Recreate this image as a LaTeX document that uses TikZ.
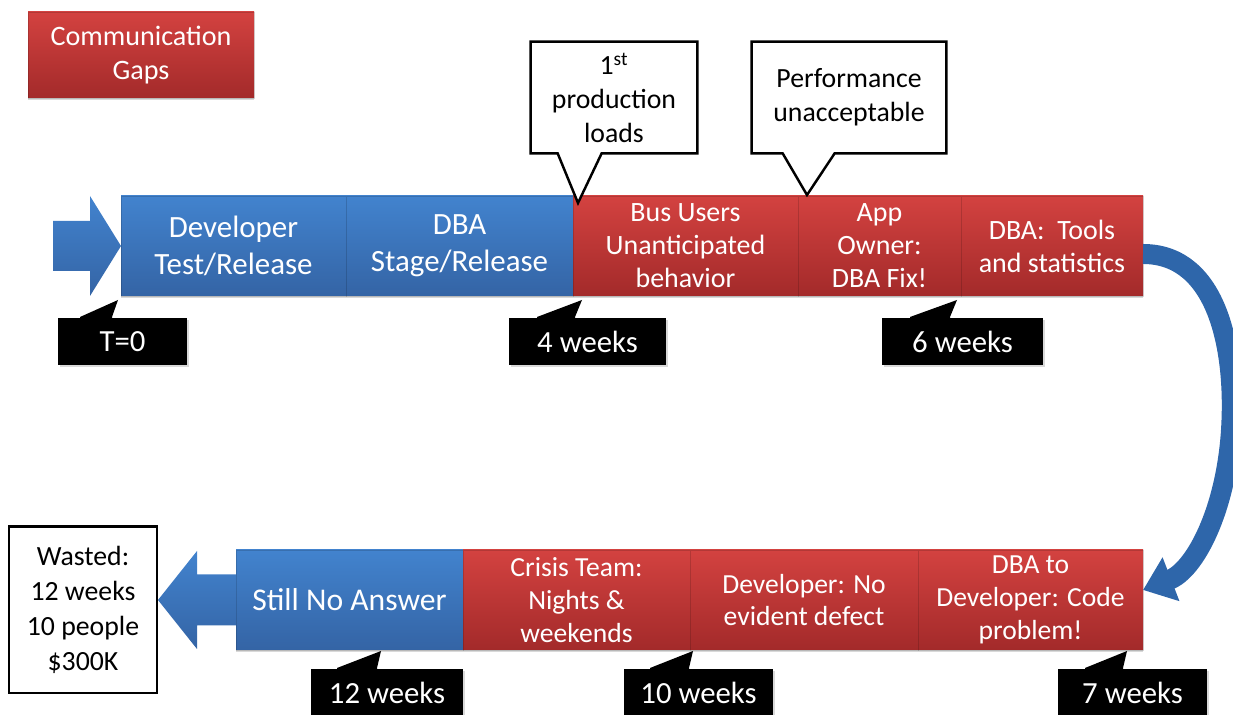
\documentclass[tikz,border=0pt]{standalone}
\usepackage{fontspec}
\setmainfont{Carlito}
\usetikzlibrary{positioning,calc,shadows,arrows.meta}
\definecolor{bluetop}{RGB}{66,131,206}
\definecolor{bluebot}{RGB}{52,100,165}
\definecolor{redtop}{RGB}{211,66,64}
\definecolor{redbot}{RGB}{163,42,42}
\definecolor{arrowblue}{RGB}{46,102,170}

\begin{document}
\begin{tikzpicture}[node distance=0cm,
    seg/.style={minimum height=2cm,inner sep=2pt,outer sep=0pt,text=white,align=center,
      draw=black,draw opacity=0.15,line width=0.4pt,
      drop shadow={shadow xshift=0pt,shadow yshift=-1.2pt,opacity=0.3}},
    blue seg/.style={seg,top color=bluetop,bottom color=bluebot,font=\fontsize{17.6}{21}\selectfont},
    red seg/.style={seg,top color=redtop,bottom color=redbot,font=\fontsize{15.9}{18.7}\selectfont},
    tag node/.style={fill=black,text=white,minimum height=0.94cm,inner sep=0pt,outer sep=0pt,
      font=\fontsize{17.5}{20}\selectfont,
      drop shadow={shadow xshift=1pt,shadow yshift=-1pt,opacity=0.3}},
    say node/.style={minimum height=2.22cm,inner sep=2pt,align=center,fill=white,
      font=\fontsize{15.8}{19.3}\selectfont},
    say line/.style={draw=black,line width=1.4pt,line join=miter},
    big arrow/.style={top color=bluetop,bottom color=bluebot}
  ]
  \useasboundingbox (0,0) rectangle (24.66,14.30);

  % title
  \node[red seg,minimum width=4.52cm,minimum height=1.72cm,font=\fontsize{16}{19.3}\selectfont] (gaps) at (2.82,13.20) {Communication\\Gaps};

  % first row
  \node[blue seg,minimum width=4.50cm,anchor=west] (dev) at (2.42,9.38) {Developer\\Test/Release};
  \node[blue seg,minimum width=4.54cm,right=of dev] (dba) {DBA\\Stage/Release};
  \node[red seg,minimum width=4.50cm,right=of dba] (bus) {Bus Users\\Unanticipated\\behavior};
  \node[red seg,minimum width=3.26cm,right=of bus] (app) {App\\Owner:\\DBA Fix!};
  \node[red seg,minimum width=3.64cm,right=of app] (tools) {DBA:~ Tools\\and statistics};

  % second row
  \node[blue seg,minimum width=4.54cm,anchor=west,font=\fontsize{18}{21}\selectfont] (still) at (4.72,2.30) {Still No Answer};
  \node[red seg,minimum width=4.54cm,right=of still,font=\fontsize{15.7}{18.7}\selectfont] (crisis) {Crisis Team:\\Nights \&\\weekends};
  \node[red seg,minimum width=4.56cm,right=of crisis,font=\fontsize{15.7}{18.7}\selectfont] (nodef) {Developer: No\\evident defect};
  \node[red seg,minimum width=4.50cm,right=of nodef,font=\fontsize{15.7}{18.7}\selectfont] (code) {DBA to\\Developer: Code\\problem!};

  % arrows in and out
  \path[big arrow] (dev.west) -- ++(-0.62,1) -- ++(0,-0.5) -- ++(-0.74,0) -- ++(0,-1) -- ++(0.74,0) -- ++(0,-0.5) -- cycle;
  \path[big arrow] ($(still.west)+(0,0.51)$) -- ++(-0.78,0) -- ++(0,0.47) -- ++(-0.78,-0.98) -- ++(0.78,-0.98) -- ++(0,0.47) -- ++(0.78,0) -- cycle;
  \draw[line width=0.4cm,arrowblue,-{Triangle[width=0.9cm,length=0.6cm]}]
    ($(tools.east)+(0,-0.16)$) .. controls (24.36,9.22) and (24.72,7.30) .. (24.62,5.70)
    .. controls (24.52,4.10) and (23.90,2.90) .. ($(code.east)+(0,0.20)$);

  % callouts
  \node[say node,minimum width=3.32cm] (load) at (12.28,12.35) {1\textsuperscript{st}\\production\\loads};
  \coordinate (loadtip) at (11.56,10.24);
  \fill[white] ($(load.south west)+(0.54,0)$) -- (loadtip) -- ($(load.south west)+(1.42,0)$) -- cycle;
  \draw[say line] ($(load.south west)+(0.54,0)$) -- (load.south west) -- (load.north west) -- (load.north east)
    -- (load.south east) -- ($(load.south west)+(1.42,0)$) -- (loadtip) -- cycle;

  \node[say node,minimum width=3.88cm] (perf) at (16.98,12.35) {Performance\\unacceptable};
  \coordinate (perftip) at (16.14,10.40);
  \fill[white] ($(perf.south west)+(0.62,0)$) -- (perftip) -- ($(perf.south west)+(1.66,0)$) -- cycle;
  \draw[say line] ($(perf.south west)+(0.62,0)$) -- (perf.south west) -- (perf.north west) -- (perf.north east)
    -- (perf.south east) -- ($(perf.south west)+(1.66,0)$) -- (perftip) -- cycle;

  % time tags
  \node[tag node,minimum width=2.58cm] (t0) at (2.45,7.47) {T=0};
  \node[tag node,minimum width=3.14cm] (w4) at (11.75,7.47) {4 weeks};
  \node[tag node,minimum width=3.22cm] (w6) at (19.25,7.47) {6 weeks};
  \node[tag node,minimum width=3.04cm] (w12) at (7.74,0.45) {12 weeks};
  \node[tag node,minimum width=2.98cm] (w10) at (13.97,0.45) {10 weeks};
  \node[tag node,minimum width=2.98cm] (w7) at (22.65,0.45) {7 weeks};
  \foreach \t/\a/\b/\c in {t0/0.44/1.08/1.20, w4/0.56/1.32/1.46, w6/0.56/1.36/1.50,
                           w12/0.52/1.32/1.40, w10/0.52/1.30/1.38, w7/0.54/1.30/1.38}
    \fill ($(\t.north west)+(\a,0.02)$) -- ($(\t.north west)+(\c,0.36)$) -- ($(\t.north west)+(\b,0.02)$) -- ++(0,-0.1) -- ($(\t.north west)+(\a,-0.08)$) -- cycle;

  % result
  \node[draw,line width=1.7pt,minimum width=2.96cm,minimum height=3.32cm,align=center,
        font=\fontsize{15.8}{19.8}\selectfont] (waste) at (1.66,2.10) {Wasted:\\12 weeks\\10 people\\\$300K};
\end{tikzpicture}
\end{document}
